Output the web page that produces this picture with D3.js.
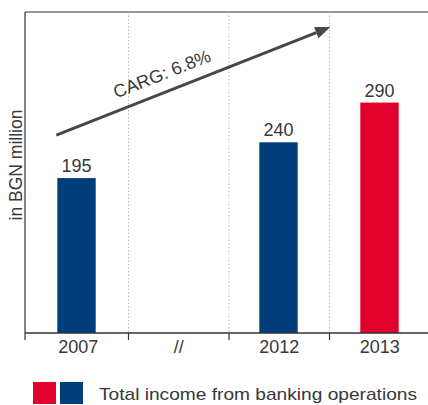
<!DOCTYPE html>
<html>
<head>
<meta charset="utf-8">
<script src="https://cdn.jsdelivr.net/npm/d3@7"></script>
<style>
  body { margin: 0; background: #fff; }
  text { font-family: "Liberation Sans", Arial, sans-serif; fill: #383838; }
</style>
</head>
<body>
<svg id="chart" width="428" height="405"></svg>
<script>
const categories = ["2007", "//", "2012", "2013"];
const values = [195, null, 240, 290];
const barColors = ["#003e7b", null, "#003e7b", "#e2002d"];
const legendColors = ["#e2002d", "#003e7b"];
const legendLabel = "Total income from banking operations";
const yTitle = "in BGN million";
const cagrLabel = "CARG: 6.8%";
const cagrFrom = "2007", cagrTo = "2013";
const cagrStartValue = 249, cagrEndValue = 385;

(function () {
const svg = d3.select("#chart");
const pLeft = 25, pRight = 428, pTop = 12, pBottom = 333;

const x = d3.scaleBand().domain(categories).range([28, 430]).paddingInner(0).paddingOuter(0);
const xb = d3.scaleBand().domain(categories).range([26, 430]).paddingInner(0.62).paddingOuter(0.31);
const y = d3.scaleLinear().domain([0, 404]).range([pBottom, pTop]);

svg.append("line").attr("x1", pLeft).attr("x2", pRight).attr("y1", pTop).attr("y2", pTop)
  .attr("stroke", "#333").attr("stroke-width", 1.2);
svg.append("line").attr("x1", pLeft).attr("x2", pLeft).attr("y1", pTop).attr("y2", pBottom + 7)
  .attr("stroke", "#333").attr("stroke-width", 1.2);

const seps = categories.slice(1).map(c => x(c));
svg.selectAll(".sep").data(seps).enter().append("line")
  .attr("x1", d => d).attr("x2", d => d).attr("y1", pTop).attr("y2", pBottom)
  .attr("stroke", "#bbb").attr("stroke-width", 1).attr("stroke-dasharray", "1.5,2");

const barData = categories.map((c, i) => ({c, v: values[i], col: barColors[i]})).filter(d => d.v != null);
svg.selectAll(".bar").data(barData).enter().append("rect")
  .attr("x", d => xb(d.c)).attr("width", xb.bandwidth())
  .attr("y", d => y(d.v)).attr("height", d => pBottom - y(d.v))
  .attr("fill", d => d.col);

svg.selectAll(".vl").data(barData).enter().append("text")
  .attr("x", d => xb(d.c) + xb.bandwidth() / 2).attr("y", d => y(d.v) - 6)
  .attr("text-anchor", "middle").attr("font-size", 18).text(d => d.v);

svg.append("line").attr("x1", pLeft).attr("x2", pRight).attr("y1", pBottom).attr("y2", pBottom)
  .attr("stroke", "#333").attr("stroke-width", 1.6);
svg.selectAll(".tk").data(seps).enter().append("line")
  .attr("x1", d => d).attr("x2", d => d).attr("y1", pBottom).attr("y2", pBottom + 7)
  .attr("stroke", "#333").attr("stroke-width", 1.2);
svg.selectAll(".tl").data(categories).enter().append("text")
  .attr("x", d => x(d) + x.bandwidth() / 2).attr("y", pBottom + 20)
  .attr("text-anchor", "middle").attr("font-size", 18).text(d => d);

svg.append("text").attr("transform", `translate(22,165) rotate(-90)`)
  .attr("text-anchor", "middle").attr("font-size", 17.5).text(yTitle);

const x1 = xb(cagrFrom) - 1, x2 = xb(cagrTo) - 30;
const y1 = y(cagrStartValue), y2 = y(cagrEndValue);
const ang = Math.atan2(y2 - y1, x2 - x1);
const hl = 15, hw = 6;
const bx = x2 - hl * Math.cos(ang), by = y2 - hl * Math.sin(ang);
svg.append("line").attr("x1", x1).attr("y1", y1).attr("x2", bx).attr("y2", by)
  .attr("stroke", "#474747").attr("stroke-width", 3);
svg.append("path")
  .attr("d", `M${x2},${y2} L${bx - hw * Math.sin(ang)},${by + hw * Math.cos(ang)} L${bx + hw * Math.sin(ang)},${by - hw * Math.cos(ang)} Z`)
  .attr("fill", "#474747");
const t = 0.41;
const tx = x1 + (x2 - x1) * t, ty = y1 + (y2 - y1) * t;
svg.append("text")
  .attr("transform", `translate(${tx + 12 * Math.sin(ang)},${ty - 12 * Math.cos(ang)}) rotate(${ang * 180 / Math.PI})`)
  .attr("text-anchor", "middle").attr("font-size", 18).text(cagrLabel);

svg.selectAll(".lg").data(legendColors).enter().append("rect")
  .attr("x", (d, i) => 33 + i * 27).attr("y", 382).attr("width", 23).attr("height", 22)
  .attr("fill", d => d);
svg.append("text").attr("x", 99).attr("y", 400).attr("font-size", 17)
  .attr("textLength", 318).attr("lengthAdjust", "spacingAndGlyphs").text(legendLabel);
})();
</script>
</body>
</html>
